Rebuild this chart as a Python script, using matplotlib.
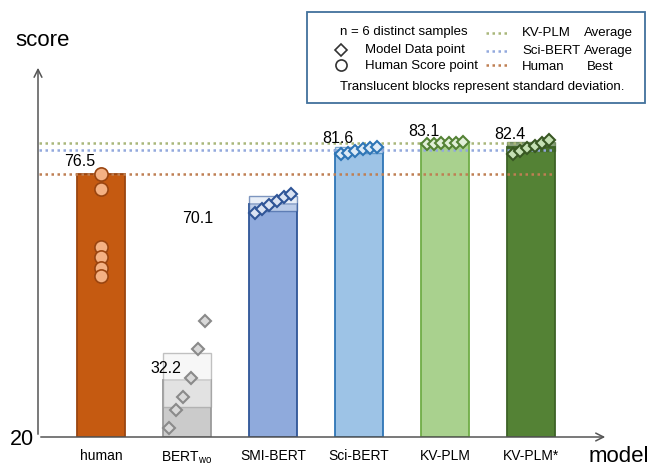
import numpy as np
import matplotlib
matplotlib.use('Agg')
import matplotlib.pyplot as plt
from matplotlib.patches import Rectangle
from matplotlib.lines import Line2D

plt.rcParams['font.family'] = ['Liberation Sans', 'DejaVu Sans']
plt.rcParams['mathtext.fontset'] = 'custom'
plt.rcParams['mathtext.rm'] = 'Liberation Sans'

# data
models = ['human', 'BERT$_{\\mathrm{wo}}$', 'SMI-BERT', 'Sci-BERT', 'KV-PLM', 'KV-PLM*']
means = [76.5, 32.2, 70.1, 81.6, 83.1, 82.4]
stds = [0.0, 5.8, 1.6, 0.6, 0.2, 1.0]
human_scores = [76.5, 73.3, 60.8, 58.6, 56.3, 54.6]
bertwo_pts = [21.9, 25.8, 28.6, 32.7, 38.9, 44.9]
smibert_pts = [68.1, 69.0, 69.9, 70.8, 71.5, 72.1]
scibert_pts = [80.7, 81.1, 81.5, 81.8, 82.0, 82.3]
kvplm_pts = [82.9, 83.0, 83.1, 83.1, 83.2, 83.3]
kvplm2_pts = [80.9, 81.5, 82.1, 82.6, 83.2, 83.8]
model_pts = [None, bertwo_pts, smibert_pts, scibert_pts, kvplm_pts, kvplm2_pts]
ymin = 20

# styles
face = ['#c55a11', '#cbcbcb', '#8faadc', '#9dc3e6', '#a9d18e', '#548235']
edge = ['#9a4510', '#9a9a9a', '#2f5597', '#2e75b6', '#70ad47', '#3d6226']
mface = ['#f4b183', '#d9d9d9', '#dae3f3', '#deebf7', '#e2f0d9', '#c5e0b4']
sface = ['#ffffff', '#f2f2f2', '#dae3f3', '#deebf7', '#e2f0d9', '#3d6226']
medge = ['#9a4510', '#8a8a8a', '#2f5597', '#2e75b6', '#548235', '#385723']
line_c = {'kv': '#a9b77a', 'sci': '#93a9dd', 'hum': '#bf7f53'}

W, H = 653, 466
fig = plt.figure(figsize=(W / 100, H / 100), dpi=100)
ax = fig.add_axes([38 / W, 29 / H, (610 - 38) / W, (437 - 60) / H])
ax.set_xlim(-63 / 86, (610 - 101) / 86)
ax.set_ylim(ymin, ymin + 377 / 4.655)
for s in ax.spines.values():
    s.set_visible(False)

bw = 0.56
x = np.arange(len(models))
for i in range(len(models)):
    ax.bar(x[i], means[i] - ymin, bottom=ymin, width=bw, color=face[i],
           edgecolor=edge[i], linewidth=1.3, zorder=2)
    if stds[i] > 0:
        ax.bar(x[i], 2 * stds[i], bottom=means[i] - stds[i], width=bw,
               color=sface[i], alpha=0.6, edgecolor=edge[i], linewidth=1.0, zorder=3)

# reference lines
x0, x1 = -0.72, 5.28
ax.plot([x0, x1], [means[4]] * 2, color=line_c['kv'], lw=1.8, ls=(0, (1, 1.4)), zorder=4)
ax.plot([x0, x1], [means[3]] * 2, color=line_c['sci'], lw=1.8, ls=(0, (1, 1.4)), zorder=4)
ax.plot([x0, x1], [max(human_scores)] * 2, color=line_c['hum'], lw=1.8, ls=(0, (1, 1.4)), zorder=4)

# points
ax.plot([x[0]] * len(human_scores), human_scores, 'o', ms=9.5, mfc=mface[0],
        mec=medge[0], mew=1.2, ls='none', zorder=5)
for i in range(1, len(models)):
    pts = model_pts[i]
    offs = np.linspace(-0.21, 0.21, len(pts))
    ax.plot(x[i] + offs, pts, 'D', ms=6.5, mfc=mface[i], mec=medge[i],
            mew=1.5, ls='none', zorder=5)

# value labels
for i in range(len(models)):
    lx, ly = x[i] - 0.25, means[i] + 2.6
    if i == 2:
        lx, ly = 1.12, 67.0
    ax.text(lx, ly, f'{means[i]:.1f}', fontsize=11.5, ha='center', va='center', zorder=6)

ax.set_xticks(x)
ax.set_xticklabels(models, fontsize=10)
ax.tick_params(axis='x', length=0, pad=9)
ax.set_yticks([20])
ax.set_yticklabels(['20'], fontsize=15.5)
ax.tick_params(axis='y', length=0, pad=3)

# axis arrows
arr = dict(arrowstyle='->', color='#555555', lw=1.1, mutation_scale=14)
ax.annotate('', xy=(38, H - 65), xytext=(38, H - 437), xycoords='figure pixels',
            textcoords='figure pixels', arrowprops=arr, annotation_clip=False)
ax.annotate('', xy=(608, H - 437), xytext=(38, H - 437), xycoords='figure pixels',
            textcoords='figure pixels', arrowprops=arr, annotation_clip=False)


def fp(px, py):
    return px / W, 1 - py / H


fig.text(*fp(43, 40), 'score', fontsize=16, ha='center', va='center')
fig.text(*fp(619, 457), 'model', fontsize=16, ha='center', va='center')

# legend box
fig.patches.append(Rectangle(fp(307, 103), 338 / W, 91 / H, transform=fig.transFigure,
                             fill=False, edgecolor='#41719c', lw=1.3))
fs = 9.5
fig.text(*fp(340, 32), 'n = 6 distinct samples', fontsize=fs, va='center')
fig.text(*fp(365, 50), 'Model Data point', fontsize=fs, va='center')
fig.text(*fp(365, 66), 'Human Score point', fontsize=fs, va='center')
fig.lines.append(Line2D([fp(341, 0)[0]], [fp(0, 50)[1]], transform=fig.transFigure,
                        marker='D', ms=6, mfc='white', mec='#333333', mew=1.2, ls='none'))
fig.lines.append(Line2D([fp(341, 0)[0]], [fp(0, 65)[1]], transform=fig.transFigure,
                        marker='o', ms=8, mfc='white', mec='#333333', mew=1.2, ls='none'))
for py, key in [(33, 'kv'), (51, 'sci'), (65, 'hum')]:
    fig.lines.append(Line2D([fp(486, 0)[0], fp(508, 0)[0]], [fp(0, py)[1]] * 2,
                            transform=fig.transFigure, color=line_c[key], lw=1.8,
                            ls=(0, (1, 1.4))))
fig.text(*fp(522, 33), 'KV-PLM', fontsize=fs, va='center')
fig.text(*fp(584, 33), 'Average', fontsize=fs, va='center')
fig.text(*fp(522, 51), 'Sci-BERT', fontsize=fs, va='center')
fig.text(*fp(584, 51), 'Average', fontsize=fs, va='center')
fig.text(*fp(522, 67), 'Human', fontsize=fs, va='center')
fig.text(*fp(587, 67), 'Best', fontsize=fs, va='center')
fig.text(*fp(482, 87), 'Translucent blocks represent standard deviation.', fontsize=fs,
         ha='center', va='center')

fig.savefig('out.png', dpi=100)
